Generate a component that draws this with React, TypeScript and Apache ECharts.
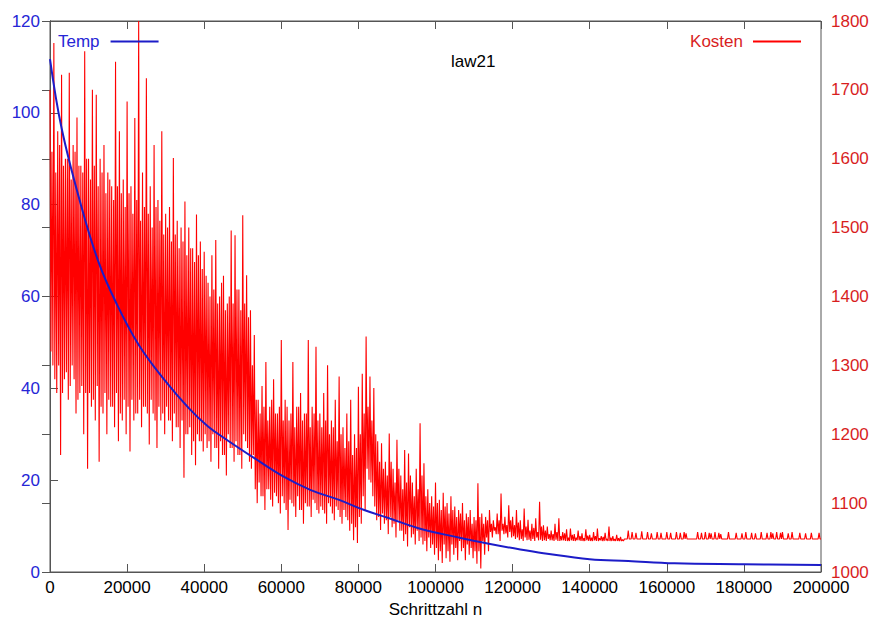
import React, { useEffect, useRef } from "react";
import * as echarts from "echarts";

// Temperature curve (left axis)
const tempSteps = [0, 3000, 8000, 12500, 17000, 23000, 30000, 36000, 41000, 46000, 53000, 60500, 67500, 75000, 81500, 88000, 96500, 105000, 113500, 122000, 128000, 140000, 150000, 162000, 180000, 200000];
const tempValues = [111.7, 96.7, 80.0, 67.7, 58.9, 49.5, 41.5, 35.7, 31.7, 28.7, 24.8, 20.8, 17.9, 15.7, 13.5, 11.7, 9.3, 7.7, 6.2, 4.9, 4.1, 2.8, 2.4, 1.9, 1.7, 1.5];

// Cost (right axis), per 1000-step bucket (0 .. 149000):
// spike high / spike low and the dense band's upper / lower edge
const bucketSize = 1000;
const kostenHigh = [
  1700, 1768, 1640, 1722, 1600, 1725, 1620, 1660, 1590, 1756,
  1600, 1700, 1693, 1600, 1620, 1580, 1560, 1741, 1640, 1570,
  1683, 1560, 1659, 1800, 1580, 1717, 1560, 1620, 1540, 1640,
  1520, 1530, 1601, 1510, 1500, 1538, 1500, 1470, 1519, 1480,
  1465, 1420, 1460, 1482, 1400, 1430, 1390, 1496, 1489, 1410,
  1518, 1431, 1380, 1344, 1250, 1270, 1305, 1240, 1280, 1230,
  1337, 1250, 1220, 1305, 1240, 1260, 1230, 1337, 1240, 1327,
  1230, 1260, 1300, 1220, 1250, 1284, 1210, 1230, 1250, 1200,
  1269, 1288, 1342, 1284, 1267, 1190, 1187, 1160, 1201, 1150,
  1192, 1140, 1177, 1172, 1130, 1150, 1216, 1158, 1120, 1110,
  1130, 1105, 1115, 1100, 1110, 1095, 1090, 1100, 1085, 1090,
  1080, 1129, 1085, 1080, 1090, 1075, 1085, 1114, 1080, 1097,
  1080, 1090, 1075, 1092, 1076, 1070, 1078, 1102, 1068, 1066,
  1060, 1070, 1078, 1058, 1062, 1063, 1055, 1060, 1056, 1062,
  1054, 1058, 1063, 1052, 1057, 1066, 1052, 1054, 1051, 1048,
];
const kostenLow = [
  1300, 1260, 1170, 1280, 1250, 1300, 1230, 1260, 1200, 1150,
  1240, 1220, 1160, 1230, 1200, 1240, 1210, 1190, 1220, 1200,
  1175, 1220, 1230, 1210, 1240, 1185, 1230, 1180, 1220, 1200,
  1220, 1190, 1210, 1180, 1137, 1200, 1170, 1155, 1190, 1175,
  1180, 1160, 1180, 1150, 1170, 1140, 1180, 1160, 1170, 1150,
  1190, 1160, 1170, 1100, 1110, 1090, 1120, 1095, 1110, 1085,
  1100, 1061, 1100, 1080, 1090, 1070, 1095, 1080, 1100, 1085,
  1090, 1070, 1095, 1075, 1090, 1070, 1080, 1060, 1046, 1042,
  1070, 1090, 1134, 1110, 1075, 1061, 1070, 1055, 1065, 1050,
  1060, 1045, 1037, 1050, 1040, 1045, 1040, 1030, 1035, 1025,
  1017, 1013, 1020, 1015, 1025, 1017, 1030, 1017, 1025, 1020,
  1012, 1005, 1025, 1030, 1050, 1055, 1045, 1055, 1050, 1050,
  1048, 1046, 1045, 1046, 1045, 1045, 1046, 1045, 1045, 1046,
  1045, 1045, 1046, 1045, 1045, 1045, 1046, 1045, 1045, 1045,
  1045, 1045, 1046, 1045, 1045, 1045, 1045, 1045, 1045, 1048,
];
const kostenBandTop = [
  1610, 1580, 1620, 1590, 1600, 1570, 1610, 1590, 1580, 1600,
  1570, 1590, 1560, 1580, 1550, 1570, 1540, 1560, 1550, 1530,
  1550, 1520, 1540, 1510, 1530, 1520, 1500, 1530, 1510, 1490,
  1500, 1480, 1490, 1470, 1480, 1460, 1470, 1450, 1460, 1440,
  1430, 1400, 1410, 1390, 1420, 1380, 1400, 1390, 1410, 1380,
  1390, 1370, 1300, 1250, 1230, 1240, 1220, 1250, 1230, 1240,
  1220, 1240, 1230, 1210, 1240, 1220, 1230, 1210, 1230, 1220,
  1210, 1220, 1200, 1210, 1190, 1200, 1180, 1190, 1170, 1180,
  1200, 1230, 1240, 1220, 1200, 1160, 1150, 1140, 1160, 1130,
  1150, 1120, 1130, 1140, 1110, 1120, 1140, 1110, 1100, 1095,
  1100, 1090, 1095, 1085, 1090, 1080, 1085, 1075, 1080, 1070,
  1075, 1080, 1070, 1075, 1070, 1065, 1075, 1070, 1068, 1075,
  1068, 1072, 1062, 1066, 1060, 1064, 1058, 1066, 1060, 1055,
  1055, 1058, 1052, 1056, 1050, 1054, 1050, 1052, 1049, 1053,
  1050, 1052, 1049, 1051, 1048, 1050, 1048, 1049, 1047, 1048,
];
const kostenBandBottom = [
  1320, 1280, 1300, 1260, 1290, 1270, 1280, 1250, 1270, 1260,
  1260, 1250, 1270, 1240, 1260, 1250, 1240, 1260, 1230, 1250,
  1240, 1250, 1230, 1250, 1240, 1230, 1250, 1220, 1240, 1230,
  1240, 1220, 1230, 1210, 1220, 1200, 1210, 1190, 1200, 1190,
  1200, 1190, 1200, 1180, 1190, 1170, 1200, 1180, 1190, 1170,
  1200, 1180, 1150, 1120, 1130, 1110, 1120, 1105, 1115, 1100,
  1110, 1090, 1105, 1095, 1110, 1090, 1100, 1095, 1105, 1090,
  1095, 1085, 1100, 1085, 1095, 1080, 1090, 1075, 1070, 1065,
  1080, 1110, 1150, 1130, 1095, 1080, 1085, 1075, 1080, 1070,
  1075, 1060, 1055, 1065, 1055, 1060, 1050, 1045, 1050, 1040,
  1035, 1030, 1040, 1030, 1040, 1035, 1045, 1035, 1040, 1035,
  1030, 1030, 1045, 1050, 1058, 1060, 1055, 1060, 1056, 1058,
  1052, 1050, 1048, 1050, 1047, 1048, 1050, 1047, 1046, 1048,
  1046, 1047, 1045, 1046, 1045, 1046, 1045, 1046, 1045, 1046,
  1045, 1046, 1045, 1045, 1046, 1045, 1045, 1045, 1045, 1048,
];

// Tail (150000 .. 200000): flat baseline with isolated spikes
const tailStart = 150000;
const tailEnd = 200000;
const tailGrid = 250;
const tailBase = 1048;
const spikeSteps = [150000, 151000, 152000, 153500, 155000, 156000, 157500, 158500, 160000, 161000, 162500, 163500, 164500, 165000, 168000, 169000, 170000, 171000, 171500, 172500, 173500, 174000, 176000, 178000, 179500, 180500, 182000, 183000, 184500, 186000, 187000, 187500, 188500, 189500, 190000, 191500, 192500, 194500, 196000, 197500, 199500];
const spikeValues = [1060, 1058, 1057, 1059, 1058, 1056, 1058, 1057, 1058, 1057, 1058, 1057, 1058, 1056, 1058, 1057, 1058, 1057, 1056, 1058, 1057, 1055, 1058, 1057, 1056, 1058, 1057, 1056, 1058, 1057, 1058, 1056, 1058, 1057, 1058, 1056, 1058, 1057, 1056, 1057, 1057];

const FONT = "'Liberation Sans', Arial, Helvetica, sans-serif";
const FS = 17;
const BLUE = "#1c1cc8";
const BLUE_TXT = "#2626d6";
const RED = "#ff0000";
const RED_TXT = "#d81e1e";
const AXIS = "#555555";

function buildKosten(): [number, number][] {
  const out: [number, number][] = [];
  const q = bucketSize / 4;
  for (let i = 0; i < kostenHigh.length; i++) {
    const b = i * bucketSize;
    out.push([b, kostenHigh[i]]);
    out.push([b + q, kostenBandBottom[i]]);
    out.push([b + 2 * q, kostenBandTop[i]]);
    out.push([b + 3 * q, kostenLow[i]]);
  }
  const spikeMap = new Map<number, number>();
  spikeSteps.forEach((s, k) => spikeMap.set(s, spikeValues[k]));
  for (let s = tailStart; s <= tailEnd; s += tailGrid) {
    out.push([s, spikeMap.has(s) ? (spikeMap.get(s) as number) : tailBase]);
  }
  return out;
}

const plain = (v: number) => String(v);

export default function App() {
  const ref = useRef<HTMLDivElement>(null);
  useEffect(() => {
    document.body.style.margin = "0";
    if (!ref.current) return;
    const chart = echarts.init(ref.current, undefined, { renderer: "svg" });
    const temp = tempSteps.map((s, i) => [s, tempValues[i]]);
    chart.setOption({
      animation: false,
      backgroundColor: "#ffffff",
      textStyle: { fontFamily: FONT },
      title: {
        text: "law21",
        left: 446,
        top: 48,
        textStyle: { fontSize: FS, fontWeight: "normal", color: "#000", fontFamily: FONT },
      },
      legend: [
        {
          data: ["Temp"],
          left: 53,
          top: 28,
          align: "right",
          icon: "rect",
          itemWidth: 48,
          itemHeight: 2,
          textStyle: { color: BLUE_TXT, fontSize: FS, fontFamily: FONT, padding: [0, 6, 0, 0] },
        },
        {
          data: ["Kosten"],
          right: 68,
          top: 28,
          align: "right",
          icon: "rect",
          itemWidth: 48,
          itemHeight: 2,
          textStyle: { color: RED_TXT, fontSize: FS, fontFamily: FONT, padding: [0, 5, 0, 0] },
        },
      ],
      grid: {
        left: 50,
        right: 53,
        top: 21,
        bottom: 47,
        containLabel: false,
        outerBoundsMode: "none",
        show: true,
        borderColor: AXIS,
        borderWidth: 1,
        backgroundColor: "transparent",
      },
      xAxis: [
        {
          type: "value",
          min: 0,
          max: 200000,
          interval: 20000,
          position: "bottom",
          name: "Schrittzahl n",
          nameLocation: "middle",
          nameGap: 29,
          nameTextStyle: { fontSize: FS, color: "#000", fontFamily: FONT },
          axisLine: { show: true, lineStyle: { color: AXIS, width: 1 } },
          axisTick: { show: true, inside: true, length: 8, lineStyle: { color: AXIS } },
          axisLabel: { show: true, color: "#000", fontSize: FS, margin: 7, fontFamily: FONT, formatter: plain },
          splitLine: { show: false },
        },
        {
          type: "value",
          min: 0,
          max: 200000,
          interval: 20000,
          position: "top",
          axisLine: { show: true, lineStyle: { color: AXIS, width: 1 } },
          axisTick: { show: true, inside: true, length: 8, lineStyle: { color: AXIS } },
          axisLabel: { show: false },
          splitLine: { show: false },
        },
      ],
      yAxis: [
        {
          type: "value",
          min: 0,
          max: 120,
          interval: 20,
          position: "left",
          axisLine: { show: true, lineStyle: { color: AXIS, width: 1 } },
          axisTick: { show: true, inside: true, length: 8, lineStyle: { color: AXIS } },
          axisLabel: { color: BLUE_TXT, fontSize: FS, margin: 10, fontFamily: FONT, formatter: plain },
          splitLine: { show: false },
        },
        {
          type: "value",
          min: 1000,
          max: 1800,
          interval: 100,
          position: "right",
          axisLine: { show: true, lineStyle: { color: AXIS, width: 1 } },
          axisTick: { show: true, inside: true, length: 8, lineStyle: { color: AXIS } },
          axisLabel: { color: RED_TXT, fontSize: FS, margin: 10, fontFamily: FONT, formatter: plain },
          splitLine: { show: false },
        },
      ],
      series: [
        {
          name: "Kosten",
          type: "line",
          xAxisIndex: 0,
          yAxisIndex: 1,
          data: buildKosten(),
          showSymbol: false,
          symbol: "none",
          lineStyle: { color: RED, width: 1.1 },
          itemStyle: { color: RED },
          z: 2,
        },
        {
          name: "Temp",
          type: "line",
          xAxisIndex: 0,
          yAxisIndex: 0,
          data: temp,
          smooth: 0.4,
          showSymbol: false,
          symbol: "none",
          lineStyle: { color: BLUE, width: 2 },
          itemStyle: { color: BLUE },
          z: 3,
        },
      ],
    });
    return () => chart.dispose();
  }, []);
  return <div ref={ref} style={{ width: 874, height: 619 }} />;
}
